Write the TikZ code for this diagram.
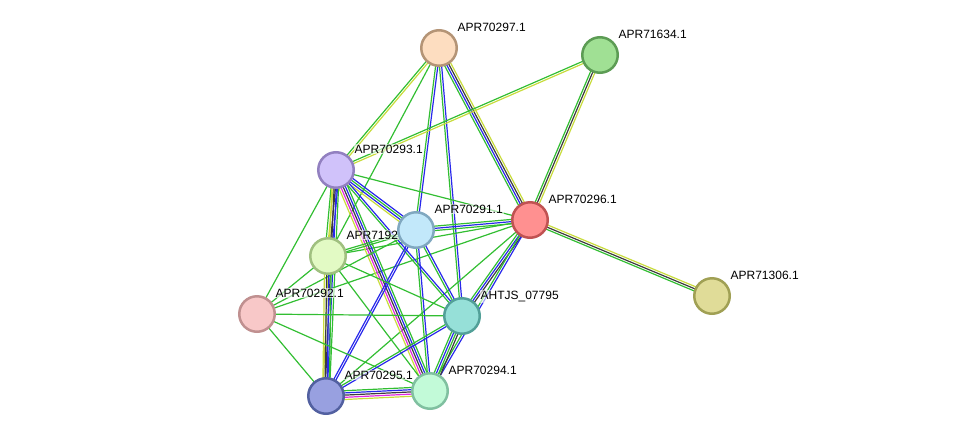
\documentclass[tikz,border=0pt]{standalone}
\usepackage{fontspec}
\setmainfont{Liberation Sans}
\usetikzlibrary{calc}
\definecolor{G}{RGB}{50,190,50}
\definecolor{B}{RGB}{40,40,235}
\definecolor{K}{RGB}{60,60,60}
\definecolor{Y}{RGB}{200,220,60}
\definecolor{M}{RGB}{225,40,225}
\definecolor{f297}{RGB}{253,221,192}\definecolor{d297}{RGB}{180,148,118}
\definecolor{f634}{RGB}{160,224,148}\definecolor{d634}{RGB}{92,156,84}
\definecolor{f293}{RGB}{208,194,250}\definecolor{d293}{RGB}{146,128,192}
\definecolor{f291}{RGB}{194,232,250}\definecolor{d291}{RGB}{128,168,192}
\definecolor{f296}{RGB}{255,144,144}\definecolor{d296}{RGB}{192,82,82}
\definecolor{f306}{RGB}{224,220,152}\definecolor{d306}{RGB}{160,160,84}
\definecolor{f920}{RGB}{226,250,196}\definecolor{d920}{RGB}{160,192,128}
\definecolor{f292}{RGB}{248,200,200}\definecolor{d292}{RGB}{192,144,144}
\definecolor{f795}{RGB}{150,224,216}\definecolor{d795}{RGB}{82,160,152}
\definecolor{f295}{RGB}{152,160,224}\definecolor{d295}{RGB}{82,96,160}
\definecolor{f294}{RGB}{194,250,216}\definecolor{d294}{RGB}{128,192,160}
\pgfdeclarelayer{edges}
\pgfsetlayers{edges,main}
\tikzset{
  protein/.style 2 args={
    circle,
    fill=#1,
    draw=#2,
    line width=2.5pt,
    minimum size=35.5pt,
    inner sep=0pt,
  },
  lbl/.style={
    anchor=base west,
    font=\fontsize{12}{14}\selectfont,
    fill=white,
    fill opacity=0.6,
    text opacity=1,
    inner sep=1pt,
    xshift=4pt,
    yshift=3.2pt,
  },
  edgeline/.style={
    line width=1.2pt,
  }
}
\newcommand{\link}[3]{%
  \foreach \c [count=\i] in {#3} {\xdef\ncount{\i}}%
  \foreach \c [count=\i] in {#3} {%
    \pgfmathsetmacro{\off}{(\i-(\ncount+1)/2)*2.2}%
    \draw[edgeline, \c] ($(#1)!\off pt!90:(#2)$) -- ($(#2)!\off pt!-90:(#1)$);
  }%
}

\begin{document}
\begin{tikzpicture}[x=1pt, y=-1pt]
\useasboundingbox (0,0) rectangle (976,442);

\node[protein={f297}{d297}, label={[lbl]45:APR70297.1}] (n297) at (439,48) {};
\node[protein={f634}{d634}, label={[lbl]45:APR71634.1}] (n634) at (600,55) {};
\node[protein={f293}{d293}, label={[lbl]45:APR70293.1}] (n293) at (336,170) {};
\node[protein={f296}{d296}, label={[lbl]45:APR70296.1}] (n296) at (530,220) {};
\node[protein={f306}{d306}, label={[lbl]45:APR71306.1}] (n306) at (712,296) {};
\node[protein={f920}{d920}, label={[lbl]45:APR7192}] (n920) at (328,256) {};
\node[protein={f291}{d291}, label={[lbl]45:APR70291.1}] (n291) at (416,230) {};
\node[protein={f292}{d292}, label={[lbl]45:APR70292.1}] (n292) at (257,314) {};
\node[protein={f795}{d795}, label={[lbl]45:AHTJS\_07795}] (n795) at (462,316) {};
\node[protein={f294}{d294}, label={[lbl]45:APR70294.1}] (n294) at (430,391) {};
\node[protein={f295}{d295}, label={[lbl]45:APR70295.1}] (n295) at (326,396) {};

\begin{pgfonlayer}{edges}
  % top nodes
  \link{n297}{n293}{G,Y}
  \link{n297}{n920}{G}
  \link{n297}{n291}{G,B}
  \link{n297}{n795}{G,B}
  \link{n297}{n296}{G,B,K,Y}
  \link{n634}{n293}{G,Y}
  \link{n634}{n296}{G,K,Y}
  \link{n296}{n306}{G,K,Y}
  % APR70296.1
  \link{n296}{n291}{G,B,G}
  \link{n296}{n293}{G}
  \link{n296}{n920}{G}
  \link{n296}{n292}{G}
  \link{n296}{n795}{G,B,K}
  \link{n296}{n295}{G}
  \link{n296}{n294}{G,B}
  % APR70293.1
  \link{n293}{n920}{G,Y,K,B}
  \link{n293}{n295}{Y,K,B,G}
  \link{n293}{n294}{Y,M,K,B,G}
  \link{n293}{n291}{Y,B,G,B}
  \link{n293}{n795}{G,B}
  \link{n293}{n292}{G}
  % APR70291.1
  \link{n291}{n920}{G,G}
  \link{n291}{n292}{G}
  \link{n291}{n295}{B,B}
  \link{n291}{n294}{G,B}
  \link{n291}{n795}{G,B}
  % APR7192
  \link{n920}{n295}{Y,K,B,G}
  \link{n920}{n292}{G}
  \link{n920}{n294}{G}
  \link{n920}{n795}{G}
  % bottom nodes
  \link{n292}{n795}{G}
  \link{n292}{n295}{G}
  \link{n292}{n294}{G}
  \link{n795}{n295}{G,B}
  \link{n795}{n294}{G,B,G,K}
  \link{n295}{n294}{Y,M,K,B,G}
\end{pgfonlayer}

\end{tikzpicture}
\end{document}
